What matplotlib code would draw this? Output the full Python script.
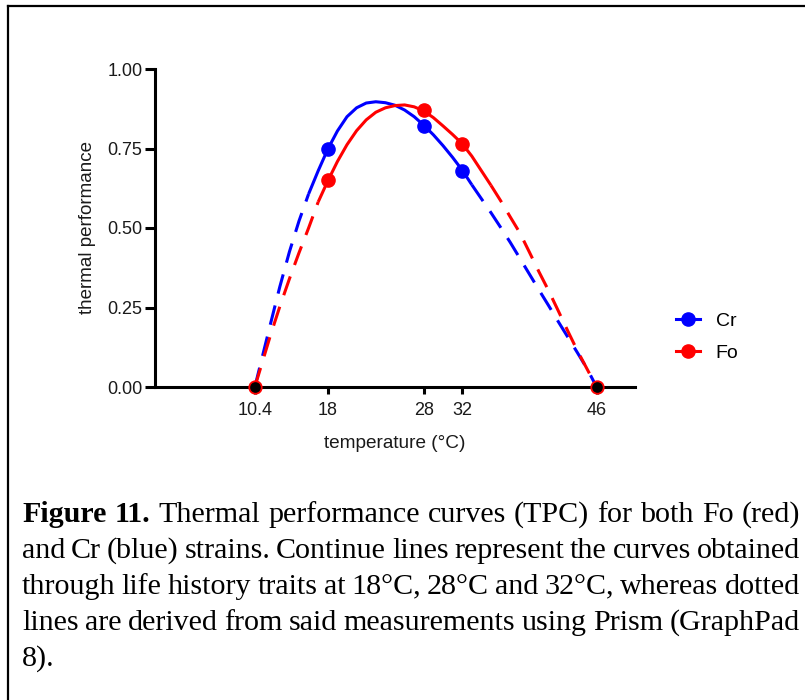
import matplotlib
matplotlib.use("Agg")
import matplotlib.pyplot as plt
from matplotlib.lines import Line2D

plt.rcParams['font.family'] = ['Liberation Sans', 'DejaVu Sans']

# fitted curves (temperature in C, thermal performance)
temps = [10.4, 11, 12, 13, 14, 15, 16, 17, 18, 19, 20, 21, 22, 23, 24, 25, 26, 27, 28,
         29, 30, 31, 32, 33, 34, 35, 36, 37, 38, 39, 40, 41, 42, 43, 44, 45, 46]
cr_curve = [0.0, 0.073, 0.195, 0.315, 0.425, 0.522, 0.607, 0.680, 0.748, 0.805, 0.850,
            0.878, 0.893, 0.897, 0.894, 0.886, 0.871, 0.850, 0.823, 0.793, 0.759, 0.722,
            0.682, 0.636, 0.592, 0.548, 0.502, 0.455, 0.405, 0.355, 0.305, 0.256, 0.206,
            0.157, 0.108, 0.058, 0.0]
fo_curve = [0.0, 0.060, 0.160, 0.253, 0.340, 0.422, 0.500, 0.582, 0.648, 0.709, 0.762,
            0.806, 0.840, 0.864, 0.878, 0.885, 0.887, 0.881, 0.868, 0.847, 0.821, 0.794,
            0.765, 0.726, 0.680, 0.634, 0.586, 0.535, 0.485, 0.424, 0.362, 0.303, 0.240,
            0.176, 0.114, 0.057, 0.0]
# temperatures where the curves are solid (measured range)
cr_solid = (16, 33)
fo_solid = (17, 35)

# measured points
meas_temps = [18, 28, 32]
cr_points = [0.75, 0.82, 0.68]
fo_points = [0.65, 0.87, 0.765]
limit_temps = [10.4, 46]
limit_values = [0.0, 0.0]

xticks = [10.4, 18, 28, 32, 46]
xticklabels = ['10.4', '18', '28', '32', '46']
yticks = [0, 0.25, 0.5, 0.75, 1.0]

caption = [
    "Figure 11. Thermal performance curves (TPC) for both Fo (red)",
    "and Cr (blue) strains. Continue lines represent the curves obtained",
    "through life history traits at 18\u00b0C, 28\u00b0C and 32\u00b0C, whereas dotted",
    "lines are derived from said measurements using Prism (GraphPad",
    "8).",
]

W, H = 805, 700
fig = plt.figure(figsize=(W / 100, H / 100), dpi=100)
ax = fig.add_axes([155 / W, (H - 387) / H, 480 / W, 318 / H])

lw = 2.2
dash = (6.5, 4)


def draw_curve(ax, xs, ys, solid, color):
    lo = xs.index(solid[0])
    hi = xs.index(solid[1])
    ax.plot(xs[:lo + 1], ys[:lo + 1], color=color, lw=lw, dashes=dash, clip_on=False)
    ax.plot(xs[lo:hi + 1], ys[lo:hi + 1], color=color, lw=lw, clip_on=False,
            solid_capstyle='butt')
    ax.plot(xs[hi:], ys[hi:], color=color, lw=lw, dashes=dash, clip_on=False)


draw_curve(ax, temps, cr_curve, cr_solid, '#0000ff')
draw_curve(ax, temps, fo_curve, fo_solid, '#ff0000')

ax.plot(meas_temps, cr_points, 'o', color='#0000ff', ms=9.5, zorder=5, clip_on=False)
ax.plot(meas_temps, fo_points, 'o', color='#ff0000', ms=9.5, zorder=5, clip_on=False)
ax.plot(limit_temps, limit_values, 'o', mfc='black', mec='#ff0000', mew=1.3, ms=9,
        zorder=6, clip_on=False)

ax.set_xlim(0, 50)
ax.set_ylim(0, 1)
ax.set_xticks(xticks, xticklabels)
ax.set_yticks(yticks, [f'{v:.2f}' for v in yticks])
for side in ('top', 'right'):
    ax.spines[side].set_visible(False)
for side in ('left', 'bottom'):
    ax.spines[side].set_linewidth(lw)
    ax.spines[side].set_zorder(1)
ax.tick_params(axis='y', length=7, width=lw, pad=2, labelsize=13, labelcolor='#1a1a1a')
ax.tick_params(axis='x', length=5, width=lw, pad=6, labelsize=13, labelcolor='#1a1a1a')
ax.set_xlabel('temperature (\u00b0C)', fontsize=13.7, labelpad=11, color='#1a1a1a')
ax.set_ylabel('thermal performance', fontsize=13.5, labelpad=8, color='#1a1a1a')

handles = [Line2D([], [], color='#0000ff', lw=lw, marker='o', ms=9.5),
           Line2D([], [], color='#ff0000', lw=lw, marker='o', ms=9.5)]
fig.legend(handles, ['Cr', 'Fo'], loc='center left', bbox_to_anchor=(676 / W, (H - 337) / H),
           frameon=False, fontsize=14, handlelength=1.25, handletextpad=0.8,
           borderpad=0, borderaxespad=0, labelspacing=0.75)

# frame around the figure (only top and left edges are visible)
fig.add_artist(Line2D([7.5 / W, 1], [1 - 6 / H, 1 - 6 / H], color='black', lw=1.6,
                      transform=fig.transFigure))
fig.add_artist(Line2D([7.5 / W, 7.5 / W], [0, 1 - 6 / H], color='black', lw=1.6,
                      transform=fig.transFigure))

# justified caption
renderer = fig.canvas.get_renderer()
left, right = 22, 800
base_y = 522
cap_size = 21.6
for i, line in enumerate(caption):
    words = line.split(' ')
    texts = []
    for j, w in enumerate(words):
        bold = (i == 0 and j < 2)
        t = fig.text(0, 0, w, fontsize=cap_size, family=['Liberation Serif', 'DejaVu Serif'],
                     fontweight='bold' if bold else 'normal', va='baseline', ha='left',
                     transform=None)
        texts.append(t)
    widths = [t.get_window_extent(renderer).width for t in texts]
    if i < len(caption) - 1 and len(words) > 1:
        gap = (right - left - sum(widths)) / (len(words) - 1)
    else:
        gap = 0.25 * cap_size * 100 / 72
    x = left
    y = H - (base_y + 36 * i)
    for t, wd in zip(texts, widths):
        t.set_position((x, y))
        x += wd + gap

fig.savefig('out.png', dpi=100)
